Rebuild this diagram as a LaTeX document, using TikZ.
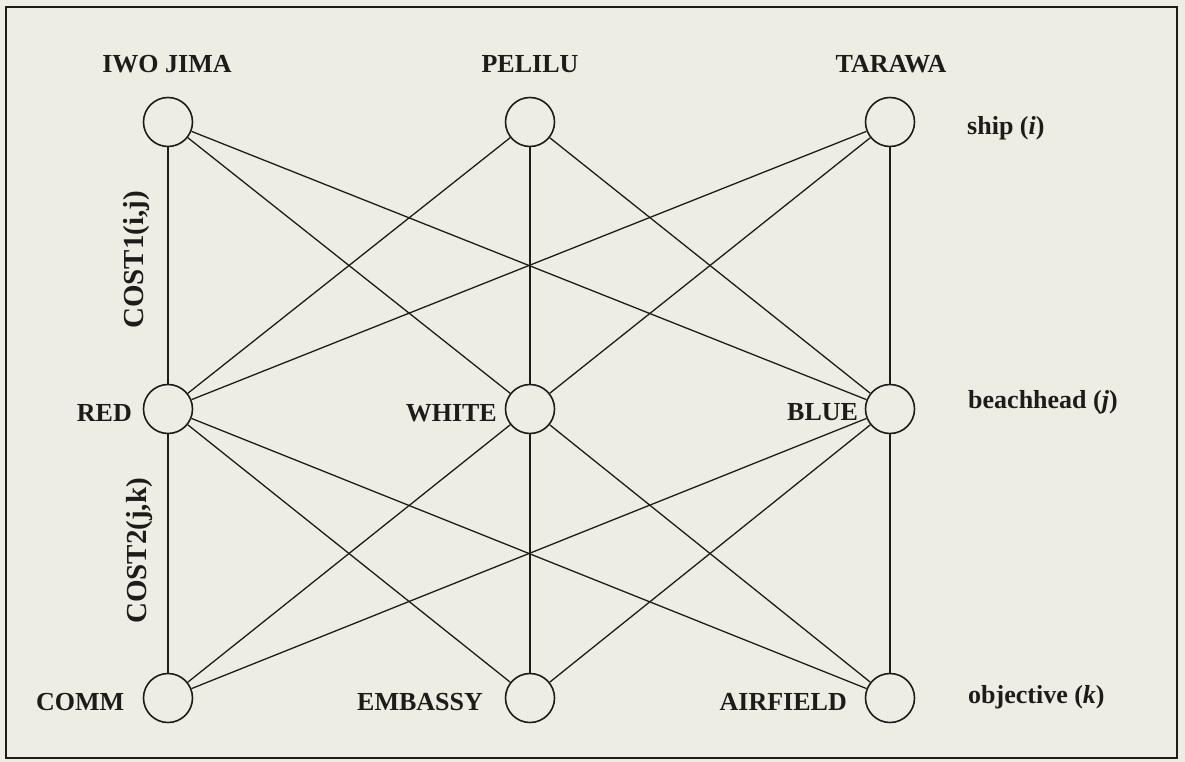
\documentclass[tikz,border=0pt]{standalone}
\usepackage{fontspec}
\setmainfont{Liberation Serif}
\definecolor{paper}{HTML}{EEEDE3}
\definecolor{ink}{HTML}{1E1C1A}
\begin{document}
\begin{tikzpicture}[x=1pt,y=-1pt,
  vtx/.style={circle,draw=ink,line width=1.6pt,minimum size=49pt,inner sep=0pt,fill=paper},
  edge/.style={draw=ink,line width=1.3pt},
  lbl/.style={text=ink,font=\fontsize{26}{30}\selectfont\bfseries,inner sep=0pt},
  costlbl/.style={text=ink,font=\fontsize{29}{33}\selectfont\bfseries,inner sep=0pt,rotate=90}]
\fill[paper] (0,0) rectangle (1185,762);
\useasboundingbox (0,0) rectangle (1185,762);
\draw[ink,line width=2.4pt] (6,7) rectangle (1177,758);
% nodes
\node[vtx] (iwo) at (168,122) {};
\node[vtx] (pel) at (530,122) {};
\node[vtx] (tar) at (890,122) {};
\node[vtx] (red) at (168,409) {};
\node[vtx] (whi) at (530,409) {};
\node[vtx] (blu) at (890,409) {};
\node[vtx] (com) at (168,698) {};
\node[vtx] (emb) at (530,698) {};
\node[vtx] (air) at (890,698) {};
% edges
\foreach \a in {iwo,pel,tar}
  \foreach \b in {red,whi,blu}
    \draw[edge] (\a) -- (\b);
\foreach \a in {red,whi,blu}
  \foreach \b in {com,emb,air}
    \draw[edge] (\a) -- (\b);
% labels
\node[lbl,anchor=base] (liwo) at (167,73) {IWO JIMA};
\node[lbl,anchor=base] (lpel) at (530,73) {PELILU};
\node[lbl,anchor=base] (ltar) at (891,73) {TARAWA};
\node[lbl,anchor=base west] (lship) at (967,135) {ship (\textit{i})};
\node[lbl,anchor=base west] (lbeach) at (968,408) {beachhead (\textit{j})};
\node[lbl,anchor=base west] (lobj) at (968,703) {objective (\textit{k})};
\node[lbl,anchor=base east] (lred) at (132,421) {RED};
\node[lbl,anchor=base east] (lwhi) at (497,421) {WHITE};
\node[lbl,anchor=base west] (lblu) at (787,420) {BLUE};
\node[lbl,anchor=base west] (lcom) at (36,710) {COMM};
\node[lbl,anchor=base west] (lemb) at (357,710) {EMBASSY};
\node[lbl,anchor=base east] (lair) at (847,710) {AIRFIELD};
\node[costlbl] (c1) at (137,260) {COST1(i,j)};
\node[costlbl] (c2) at (140,551) {COST2(j,k)};
\end{tikzpicture}
\end{document}
